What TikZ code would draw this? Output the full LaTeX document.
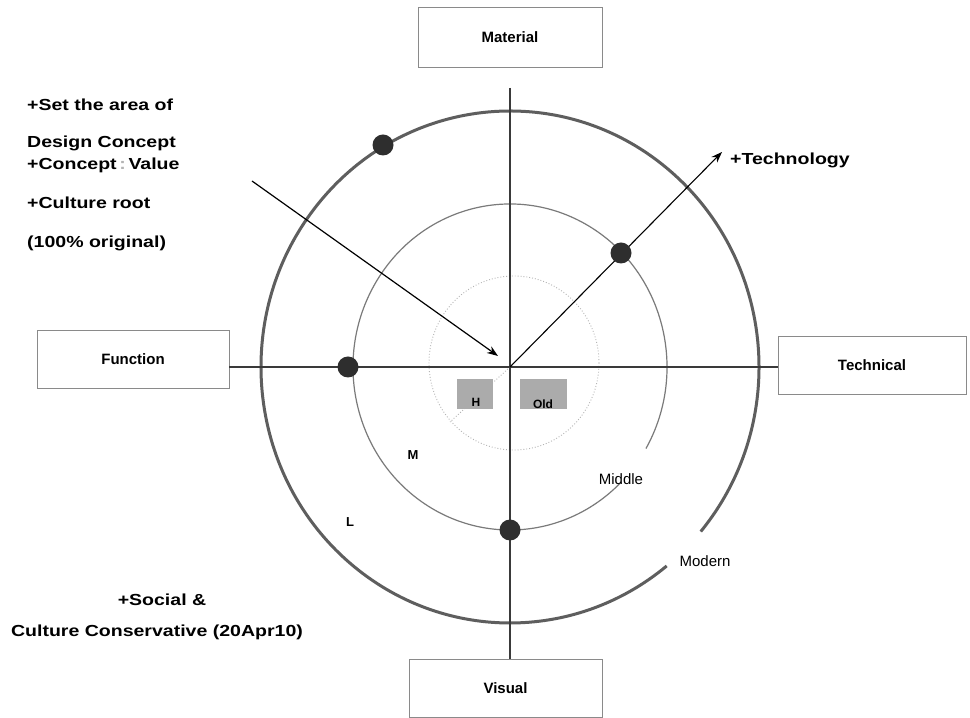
\documentclass[tikz,border=0pt]{standalone}
\usepackage{fontspec}
\setmainfont{Liberation Sans}
\newfontfamily\widefont{Liberation Sans}[FakeStretch=1.22]
\usetikzlibrary{arrows.meta}
\definecolor{axisgray}{HTML}{3A3A3A}
\definecolor{ringgray}{HTML}{5E5E5E}
\definecolor{midgray}{HTML}{7A7A7A}
\definecolor{innergray}{HTML}{B4B4B4}
\definecolor{dotgray}{HTML}{2E2E2E}
\definecolor{tilegray}{HTML}{ABABAB}
\definecolor{framegray}{HTML}{8A8A8A}
\tikzset{
  labelbox/.style={draw=framegray, line width=0.8pt, minimum width=#1, minimum height=58pt,
    inner sep=0pt, font=\fontsize{15}{18}\selectfont\bfseries},
  note/.style={anchor=west, inner sep=0pt, font=\widefont\fontsize{16}{19}\selectfont\bfseries},
  notec/.style={inner sep=0pt, font=\widefont\fontsize{16}{19}\selectfont\bfseries},
  ringdot/.style={circle, fill=dotgray, minimum size=21pt, inner sep=0pt},
  tile/.style={fill=tilegray, minimum height=30pt, inner sep=0pt},
  tinylabel/.style={inner sep=0pt, font=\fontsize{12}{14}\selectfont\bfseries},
  zonelabel/.style={inner sep=0pt, font=\fontsize{13}{15}\selectfont\bfseries},
  ringlabel/.style={inner sep=0pt, font=\fontsize{15}{18}\selectfont},
  axis/.style={draw=axisgray, line width=1.3pt},
  pointer/.style={draw=black, line width=1.2pt, -{Stealth[length=11pt, width=8pt]}}
}
\begin{document}
\begin{tikzpicture}[x=1pt, y=1pt]
\useasboundingbox[fill=white] (0,0) rectangle (970,718);

% centre of the rings
\coordinate (c) at (510,351);
\coordinate (ctop) at (510,630);

% the four labelled boxes
\node[labelbox=184pt, minimum height=60pt] (mat) at (510,681) {Material};
\node[labelbox=193pt] (vis) at (505.5,30) {Visual};
\node[labelbox=188pt] (tec) at (872,353) {Technical};
\node[labelbox=192pt] (fun) at (133,359) {Function};

% inner dotted ring
\draw[innergray, line width=0.9pt, dotted] (514,355) ellipse [x radius=85pt, y radius=87pt];
\draw[innergray, line width=0.9pt, dotted] (c) -- (450,296);

% middle ring, open where "Middle" sits
\draw[midgray, line width=1.2pt] (c) ++(-30:157pt and 163pt)
  arc[start angle=-30, end angle=315, x radius=157pt, y radius=163pt];

% outer ring, open where "Modern" sits
\draw[ringgray, line width=3pt] (c) ++(-40:249pt and 256pt)
  arc[start angle=-40, end angle=309, x radius=249pt, y radius=256pt];

% axes
\draw[axis] (c -| fun.east) -- (c -| tec.west);
\draw[axis] (ctop) -- (c |- vis.north);

% grey tiles
\node[tile, minimum width=36pt] (h) at (475,324) {};
\node[tinylabel] (hl) at (476,316) {H};
\node[tile, minimum width=47pt] (old) at (543.5,324) {};
\node[tinylabel] (oldl) at (543,314) {Old};

% pointers
\coordinate (techtip) at (722,566);
\coordinate (notestart) at (252,537);
\coordinate (notetip) at (498,362);
\draw[pointer, line width=1.1pt] (c) -- (techtip);
\draw[pointer] (notestart) -- (notetip);

% markers on the rings
\node[ringdot] (d1) at (383,573) {};
\node[ringdot] (d2) at (621,465) {};
\node[ringdot] (d3) at (348,351) {};
\node[ringdot] (d4) at (510,188) {};

% zone labels
\node[zonelabel] (lm) at (413,263) {M};
\node[zonelabel] (ll) at (350,196) {L};
\node[ringlabel] (lmid) at (621,239) {Middle};
\node[ringlabel] (lmod) at (705,157) {Modern};

% notes
\node[note] (n1) at (27,613) {+Set the area of};
\node[note] (n2) at (27,575) {Design Concept};
\node[note] (n3) at (27,553) {+Concept\,{\color{innergray}:}\,Value};
\node[note] (n4) at (27,515) {+Culture root};
\node[note] (n5) at (27,475) {(100\%\ original)};
\node[note] (ntech) at (730,558) {+Technology};
\node[notec] (s1) at (162,118) {+Social \&};
\node[notec] (s2) at (157,86) {Culture Conservative (20Apr10)};
\end{tikzpicture}
\end{document}
